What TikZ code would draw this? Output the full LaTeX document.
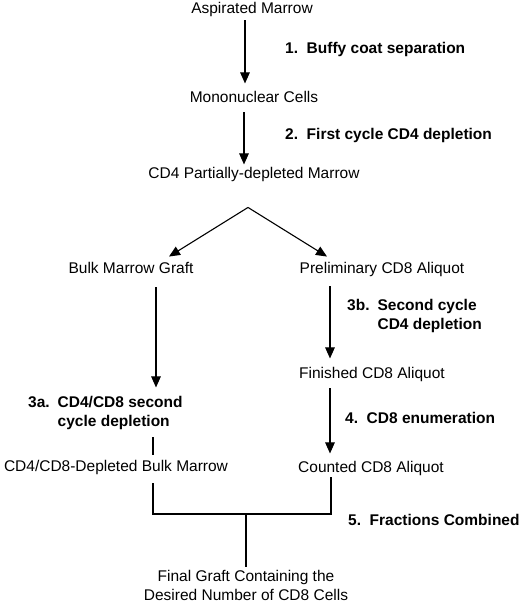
\documentclass[tikz,border=0pt]{standalone}
\usepackage{fontspec}
\setmainfont{Liberation Sans}
\usepackage{tikz}
\usetikzlibrary{arrows.meta}

\tikzset{
  stage/.style={inner sep=0pt, text height=11pt, text depth=3.5pt, font=\fontsize{15.5}{19}\selectfont},
  stepname/.style={anchor=west, inner sep=0pt, font=\fontsize{15.5}{19}\selectfont\bfseries},
  arr/.style={-{Triangle[length=11pt,width=9.5pt]}, line width=1.1pt},
  wire/.style={line width=1.1pt}
}

\begin{document}
\begin{tikzpicture}[x=1pt,y=1pt]
        \useasboundingbox (0,0) rectangle (520,603);

        % stages
        \node[stage] (am) at (252,593) {Aspirated Marrow};
        \node[stage] (mc) at (254,504) {Mononuclear Cells};
        \node[stage] (cdp) at (254,428) {CD4 Partially-depleted Marrow};
        \node[stage] (bulk) at (131,333) {Bulk Marrow Graft};
        \node[stage] (prelim) at (382,333) {Preliminary CD8 Aliquot};
        \node[stage] (fin) at (372,228) {Finished CD8 Aliquot};
        \node[stage] (depl) at (116,135) {CD4/CD8-Depleted Bulk Marrow};
        \node[stage] (counted) at (371,134) {Counted CD8 Aliquot};
        \node[font=\fontsize{15.5}{19}\selectfont, align=center, inner sep=0pt] (final) at (246,17.5)
             {Final Graft Containing the\\Desired Number of CD8 Cells};

        % labelleds
        \node[stepname] (s1) at (285,554) {1.\ \ Buffy coat separation};
        \node[stepname] (s2) at (285,468) {2.\ \ First cycle CD4 depletion};
        \node[stepname] (s3a) at (28,190)
             {\begin{tabular}{@{}l@{\hspace{8pt}}l@{}}3a. & CD4/CD8 second\\ & cycle depletion\end{tabular}};
        \node[stepname] (s3b) at (347,287)
             {\begin{tabular}{@{}l@{\hspace{8pt}}l@{}}3b. & Second cycle\\ & CD4 depletion\end{tabular}};
        \node[stepname] (s4) at (345,185) {4.\ \ CD8 enumeration};
        \node[stepname] (s5) at (348,83) {5.\ \ Fractions Combined};

        %% arcs
        \draw[arr] ([xshift=-7pt,yshift=-3pt]am.south) -- ++(0,-63);
        \draw[arr] ([xshift=-10pt,yshift=-6pt]mc.south) -- ++(0,-52);
        \coordinate (split) at ([xshift=-6pt,yshift=-25pt]cdp.south);
        \draw[arr] (split) -- ([xshift=38pt,yshift=6pt]bulk.north);
        \draw[arr] (split) -- ([xshift=-55pt,yshift=6pt]prelim.north);
        \draw[arr] ([xshift=25pt,yshift=-10pt]bulk.south) -- ++(0,-100);
        \draw[wire] ([xshift=37pt,yshift=6pt]depl.north) -- ++(0,18);
        \draw[arr] ([xshift=-52pt,yshift=-9pt]prelim.south) -- ++(0,-72);
        \draw[arr] ([xshift=-42pt,yshift=-6pt]fin.south) -- ++(0,-65);

        %% combining
        \coordinate (join) at (246,89);
        \draw[wire] ([xshift=37pt,yshift=-8pt]depl.south) |- (join) -| ([xshift=-40pt,yshift=-1pt]counted.south);
        \draw[wire, shorten >=3pt] (join) -- (join |- final.north);
\end{tikzpicture}
\end{document}
